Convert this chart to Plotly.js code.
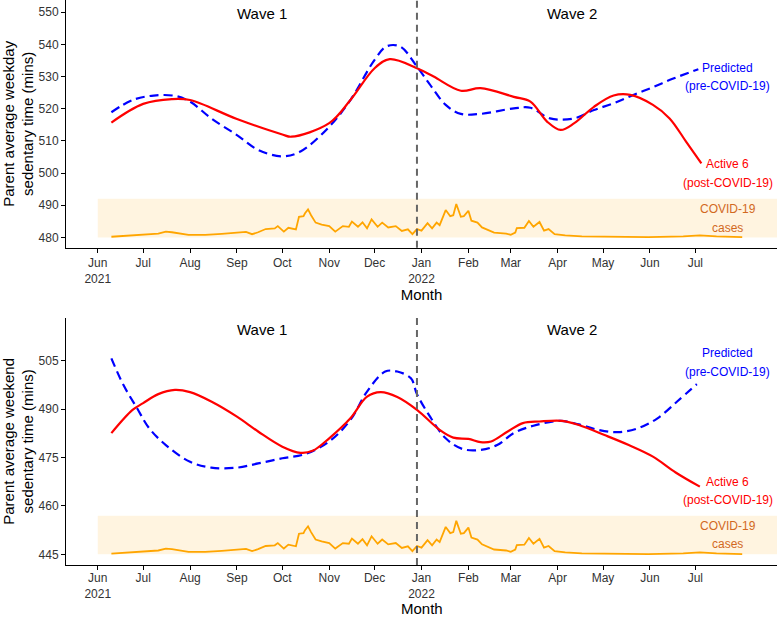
<!DOCTYPE html>
<html>
<head>
<meta charset="utf-8">
<script src="https://cdn.plot.ly/plotly-3.0.1.min.js"></script>
<style>html,body{margin:0;padding:0;background:#fff;}#chart{width:777px;height:617px;}</style>
</head>
<body>
<div id="chart"></div>
<script>
// ---------- DATA ----------
const monthTickDates = ["2021-06-01","2021-07-01","2021-08-01","2021-09-01","2021-10-01","2021-11-01","2021-12-01",
  "2022-01-01","2022-02-01","2022-03-01","2022-04-01","2022-05-01","2022-06-01","2022-07-01"];
const monthTickLabels = ["Jun<br>2021","Jul","Aug","Sep","Oct","Nov","Dec","Jan<br>2022","Feb","Mar","Apr","May","Jun","Jul"];
const waveSplitDate = "2021-12-29";

// Weekday panel
const weekdayActiveDates = ["2021-06-10","2021-07-01","2021-07-20","2021-08-01","2021-09-01","2021-10-01","2021-10-07",
  "2021-11-01","2021-11-15","2021-12-01","2021-12-11","2021-12-29","2022-01-09","2022-01-27","2022-02-09","2022-03-03",
  "2022-03-14","2022-03-25","2022-04-03","2022-04-12","2022-04-25","2022-05-08","2022-05-19","2022-06-03","2022-06-14",
  "2022-06-25","2022-07-05"];
const weekdayActive = [515.7,521.5,523.0,522.7,516.8,512.0,511.3,515.5,522.7,532.6,535.4,532.6,530.0,525.6,526.4,523.7,
  522.2,516.0,513.4,515.5,520.6,524.1,524.3,521.2,517.0,509.7,503.0];
const weekdayPredDates = ["2021-06-10","2021-06-24","2021-07-08","2021-07-22","2021-08-01","2021-08-15","2021-09-01",
  "2021-09-15","2021-10-01","2021-10-13","2021-11-01","2021-11-15","2021-12-01","2021-12-09","2021-12-18","2021-12-29",
  "2022-01-06","2022-01-17","2022-01-27","2022-02-09","2022-03-03","2022-03-14","2022-03-27","2022-04-12","2022-04-25",
  "2022-05-08","2022-05-21","2022-06-03","2022-06-16","2022-07-03"];
const weekdayPred = [518.9,522.7,524.1,524.0,522.2,517.0,511.8,507.2,505.2,506.7,514.4,522.7,535.2,539.4,539.3,533.1,
  527.9,521.2,518.4,518.4,520.1,520.3,517.0,517.0,519.6,521.7,524.3,526.7,529.3,532.3];

// Weekend panel
const weekendActiveDates = ["2021-06-10","2021-06-24","2021-07-01","2021-07-11","2021-07-22","2021-08-01","2021-08-15",
  "2021-09-01","2021-09-15","2021-10-01","2021-10-13","2021-10-21","2021-11-01","2021-11-15","2021-11-26","2021-12-05",
  "2021-12-16","2021-12-29","2022-01-13","2022-01-22","2022-02-01","2022-02-09","2022-02-16","2022-02-27","2022-03-09",
  "2022-03-20","2022-04-04","2022-04-15","2022-05-02","2022-05-18","2022-06-03","2022-06-18","2022-07-04"];
const weekendActive = [482.6,489.8,491.9,494.7,496.0,495.3,492.4,487.7,483.1,478.4,476.5,477.1,481.0,487.2,493.9,495.3,
  493.8,489.8,483.6,481.2,480.8,479.8,480.0,483.1,485.7,486.2,486.4,485.1,482.0,478.9,475.3,470.4,466.0];
const weekendPredDates = ["2021-06-10","2021-06-18","2021-06-27","2021-07-05","2021-07-16","2021-08-01","2021-08-15",
  "2021-09-01","2021-09-15","2021-10-01","2021-10-16","2021-11-01","2021-11-15","2021-11-26","2021-12-08","2021-12-16",
  "2021-12-25","2021-12-29","2022-01-06","2022-01-17","2022-01-28","2022-02-09","2022-02-20","2022-03-03","2022-03-16",
  "2022-04-03","2022-04-15","2022-04-28","2022-05-11","2022-05-24","2022-06-06","2022-06-19","2022-07-02"];
const weekendPred = [505.8,497.5,490.3,484.1,478.9,473.7,471.9,471.9,473.2,474.8,476.1,480.0,486.7,495.5,501.7,501.7,
  499.6,494.7,488.2,481.0,477.7,477.4,478.9,482.6,484.9,486.4,485.3,483.6,482.9,484.1,487.2,492.4,497.8];

// COVID-19 cases (scaled height above each panel's baseline)
const covidDates = ["2021-06-10","2021-06-28","2021-07-11","2021-07-16","2021-07-20","2021-07-31","2021-08-11","2021-08-22",
  "2021-08-31","2021-09-07","2021-09-11","2021-09-15","2021-09-20","2021-09-26","2021-09-28","2021-10-02","2021-10-05",
  "2021-10-10","2021-10-12","2021-10-15","2021-10-16","2021-10-18","2021-10-20","2021-10-23","2021-10-27","2021-11-01",
  "2021-11-05","2021-11-10","2021-11-14","2021-11-16","2021-11-20","2021-11-23","2021-11-26","2021-11-29","2021-12-03",
  "2021-12-06","2021-12-10","2021-12-15","2021-12-19","2021-12-23","2021-12-26","2021-12-29","2022-01-01","2022-01-05",
  "2022-01-08","2022-01-11","2022-01-13","2022-01-17","2022-01-20","2022-01-22","2022-01-24","2022-01-27","2022-01-29",
  "2022-02-01","2022-02-03","2022-02-07","2022-02-10","2022-02-13","2022-02-18","2022-02-26","2022-03-01","2022-03-04",
  "2022-03-05","2022-03-10","2022-03-13","2022-03-16","2022-03-20","2022-03-23","2022-03-26","2022-03-30","2022-04-06",
  "2022-04-17","2022-05-09","2022-05-31","2022-06-23","2022-07-04","2022-07-15","2022-08-01"];
const covidLevel = [0.2,0.7,1.2,1.8,1.6,0.8,0.8,1.1,1.5,1.7,1.0,1.6,2.6,2.8,3.5,1.8,3.0,2.5,6.4,6.6,7.5,8.7,6.9,4.6,4.0,3.5,
  1.8,3.5,3.3,4.9,3.3,4.7,2.8,5.6,3.3,4.6,3.1,3.5,2.0,2.5,1.0,2.6,2.1,4.4,2.8,4.6,3.8,8.5,6.6,6.9,10.4,6.4,6.6,8.3,5.2,
  4.6,3.1,2.5,1.5,1.2,0.8,1.5,2.9,3.0,5.1,3.3,4.8,2.1,2.6,1.0,0.6,0.3,0.1,0.1,0.3,0.6,0.3,0.1];
const weekdayBaseline = 480;
const weekendBaseline = 445;
const covidBandHeight = 12;

const weekdayTicks = [480,490,500,510,520,530,540,550];
const weekendTicks = [445,460,475,490,505];

// ---------- STYLE ----------
const FONT = "Liberation Sans, Arial, Helvetica, sans-serif";
const RED = "#FF0000", BLUE = "#0000FF", ORANGE = "#FFA500", COVIDTXT = "#D2691E";

function panelTraces(xa, ya, activeDates, active, predDates, pred, base) {
  return [
    {x: covidDates, y: covidLevel.map(v => base + v), xaxis: xa, yaxis: ya, mode: "lines",
     line: {color: ORANGE, width: 1.8}, hoverinfo: "skip", showlegend: false},
    {x: predDates, y: pred, xaxis: xa, yaxis: ya, mode: "lines",
     line: {color: BLUE, width: 2.2, dash: "9px,5px", shape: "spline", smoothing: 1}, showlegend: false},
    {x: activeDates, y: active, xaxis: xa, yaxis: ya, mode: "lines",
     line: {color: RED, width: 2.2, shape: "spline", smoothing: 1}, showlegend: false}
  ];
}

const data = [].concat(
  panelTraces("x", "y", weekdayActiveDates, weekdayActive, weekdayPredDates, weekdayPred, weekdayBaseline),
  panelTraces("x2", "y2", weekendActiveDates, weekendActive, weekendPredDates, weekendPred, weekendBaseline)
);

const xRange = ["2021-05-11", "2022-08-24"];
function xaxisDef(anchor, titleText, labelShift) {
  return {
    anchor: anchor, domain: [0, 1], type: "date", range: xRange,
    tickmode: "array", tickvals: monthTickDates, ticktext: monthTickLabels,
    ticks: "outside", ticklen: 4, tickwidth: 1, tickcolor: "#000", ticklabelstandoff: labelShift,
    showline: true, linecolor: "#000", linewidth: 1, showgrid: false, zeroline: false,
    tickfont: {family: FONT, size: 12, color: "#333"},
    title: {text: titleText, font: {family: FONT, size: 15, color: "#000"}, standoff: 2}
  };
}
function yaxisDef(anchor, domain, range, ticks, title) {
  return {
    anchor: anchor, domain: domain, range: range,
    tickmode: "array", tickvals: ticks,
    ticks: "outside", ticklen: 4, tickwidth: 1, tickcolor: "#000",
    showline: true, linecolor: "#000", linewidth: 1, showgrid: false, zeroline: false,
    tickfont: {family: FONT, size: 12, color: "#333"},
    title: {text: title, font: {family: FONT, size: 15, color: "#000"}, standoff: 4}
  };
}

function bandShape(xref, yref, base) {
  return {type: "rect", xref: xref, yref: yref, x0: "2021-06-01", x1: xRange[1], y0: base, y1: base + covidBandHeight,
          fillcolor: "rgba(255,165,0,0.12)", line: {width: 0}, layer: "below"};
}
function splitShape(xref, yref) {
  return {type: "line", xref: xref, yref: yref, x0: waveSplitDate, x1: waveSplitDate, y0: 0, y1: 1,
          line: {color: "#666", width: 2, dash: "7px,5px"}};
}

function ann(xref, yref, x, y, text, color, size) {
  return {xref: xref, yref: yref, x: x, y: y, text: text, showarrow: false, xanchor: "center", yanchor: "middle",
          font: {family: FONT, size: size, color: color}};
}

const annotations = [
  ann("x domain", "y", 0.2752, 549.7, "Wave 1", "#000", 15),
  ann("x domain", "y", 0.7113, 549.7, "Wave 2", "#000", 15),
  ann("x domain", "y", 0.931, 532.8, "Predicted", BLUE, 12),
  ann("x domain", "y", 0.931, 527.2, "(pre-COVID-19)", BLUE, 12),
  ann("x domain", "y", 0.931, 502.7, "Active 6", RED, 12),
  ann("x domain", "y", 0.931, 497.0, "(post-COVID-19)", RED, 12),
  ann("x domain", "y", 0.931, 488.7, "COVID-19", COVIDTXT, 12),
  ann("x domain", "y", 0.931, 483.0, "cases", COVIDTXT, 12),

  ann("x2 domain", "y2", 0.2752, 514.6, "Wave 1", "#000", 15),
  ann("x2 domain", "y2", 0.7113, 514.6, "Wave 2", "#000", 15),
  ann("x2 domain", "y2", 0.931, 507.6, "Predicted", BLUE, 12),
  ann("x2 domain", "y2", 0.931, 501.7, "(pre-COVID-19)", BLUE, 12),
  ann("x2 domain", "y2", 0.931, 467.5, "Active 6", RED, 12),
  ann("x2 domain", "y2", 0.931, 461.9, "(post-COVID-19)", RED, 12),
  ann("x2 domain", "y2", 0.931, 453.8, "COVID-19", COVIDTXT, 12),
  ann("x2 domain", "y2", 0.931, 448.1, "cases", COVIDTXT, 12),
  // bottom panel x-axis title (placed in the bottom margin)
  {xref: "x2 domain", yref: "paper", x: 0.5, y: -0.0763, text: "Month", showarrow: false,
   xanchor: "center", yanchor: "middle", font: {family: FONT, size: 15, color: "#000"}}
];

const layout = {
  width: 777, height: 617,
  margin: {l: 66, r: 0, t: 0, b: 52, pad: 0},
  paper_bgcolor: "#fff", plot_bgcolor: "#fff",
  font: {family: FONT, size: 12, color: "#000"},
  showlegend: false,
  xaxis: xaxisDef("y", "Month", 0),
  yaxis: yaxisDef("x", [0.5616, 1], [476.8, 553.8], weekdayTicks, "Parent average weekday<br>sedentary time (mins)"),
  xaxis2: xaxisDef("y2", "", -2),
  yaxis2: yaxisDef("x2", [0, 0.4377], [441.7, 518.4], weekendTicks, "Parent average weekend<br>sedentary time (mins)"),
  shapes: [
    bandShape("x", "y", weekdayBaseline), bandShape("x2", "y2", weekendBaseline),
    splitShape("x", "y domain"), splitShape("x2", "y2 domain")
  ],
  annotations: annotations
};

Plotly.newPlot("chart", data, layout, {displayModeBar: false, staticPlot: true});
</script>
</body>
</html>
